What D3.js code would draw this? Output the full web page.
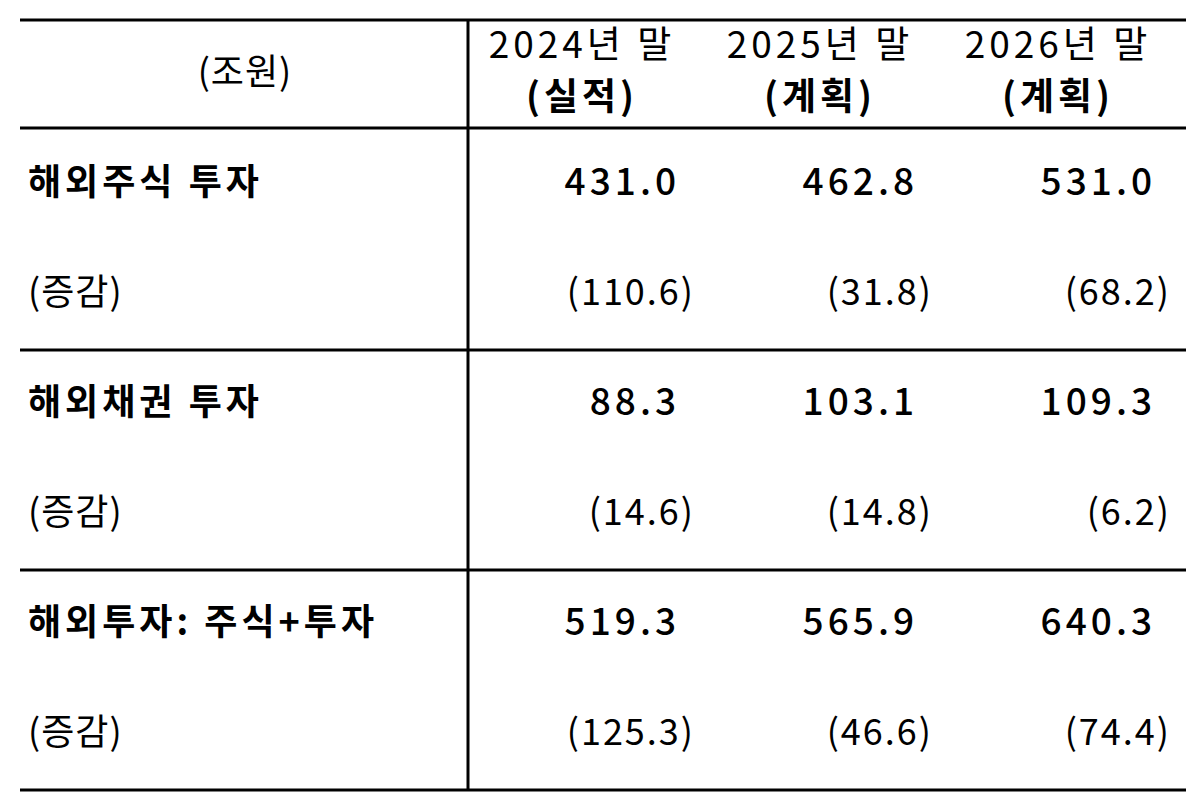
<!DOCTYPE html>
<html><head><meta charset="utf-8">
<script src="https://cdn.jsdelivr.net/npm/d3@7"></script>
<style>body{margin:0;background:#fff}</style></head>
<body><svg id="c" width="1200" height="807"></svg>
<script>
const unitLabel = "(조원)";
const columns = [["2024년 말","(실적)"],["2025년 말","(계획)"],["2026년 말","(계획)"]];
const rowLabels = ["해외주식 투자","해외채권 투자","해외투자: 주식+투자"];
const changeLabel = "(증감)";
const levels = [[431.0,462.8,531.0],[88.3,103.1,109.3],[519.3,565.9,640.3]];
const changes = [[110.6,31.8,68.2],[14.6,14.8,6.2],[125.3,46.6,74.4]];

const svg = d3.select("#c");
const font = "'Noto Sans CJK KR', sans-serif";
const colX = d3.scalePoint().domain([0,1,2]).range([582,1058]);
const rowY = d3.scaleLinear().domain([0,1]).range([185,405]);

function line(x1,y1,x2,y2,w){svg.append("line").attr("x1",x1).attr("y1",y1).attr("x2",x2).attr("y2",y2).attr("stroke","#000").attr("stroke-width",w);}
line(20,20,1186,20,3); line(20,128,1186,128,3); line(20,350,1186,350,3); line(20,570,1186,570,3); line(20,790,1186,790,3);
line(468,20,468,790,3);

function txt(x,y,s,anchor,bold,ls,fs){return svg.append("text").attr("x",x).attr("y",y).attr("text-anchor",anchor).attr("dominant-baseline","middle")
 .attr("font-family",font).attr("font-size",fs||36).attr("font-weight",bold?700:400).attr("letter-spacing",ls||0).attr("fill","#000").text(s);}

txt(245,75,unitLabel,"middle",false,1);
columns.forEach((c,i)=>{txt(colX(i),48,c[0],"middle",false,4,37);txt(colX(i),100,c[1],"middle",true,4,37);});
rowLabels.forEach((r,j)=>{
 const y=rowY(j);
 txt(28,y,r,"start",true,4,36);
 txt(28,y+110,changeLabel,"start",false,1);
 levels[j].forEach((v,i)=>txt(colX(i)+98,y,v.toFixed(1),"end",false,4,37).attr("font-weight",500));
 changes[j].forEach((v,i)=>txt(colX(i)+113,y+110,"("+v.toFixed(1)+")","end",false,2,36));
});
</script></body></html>
